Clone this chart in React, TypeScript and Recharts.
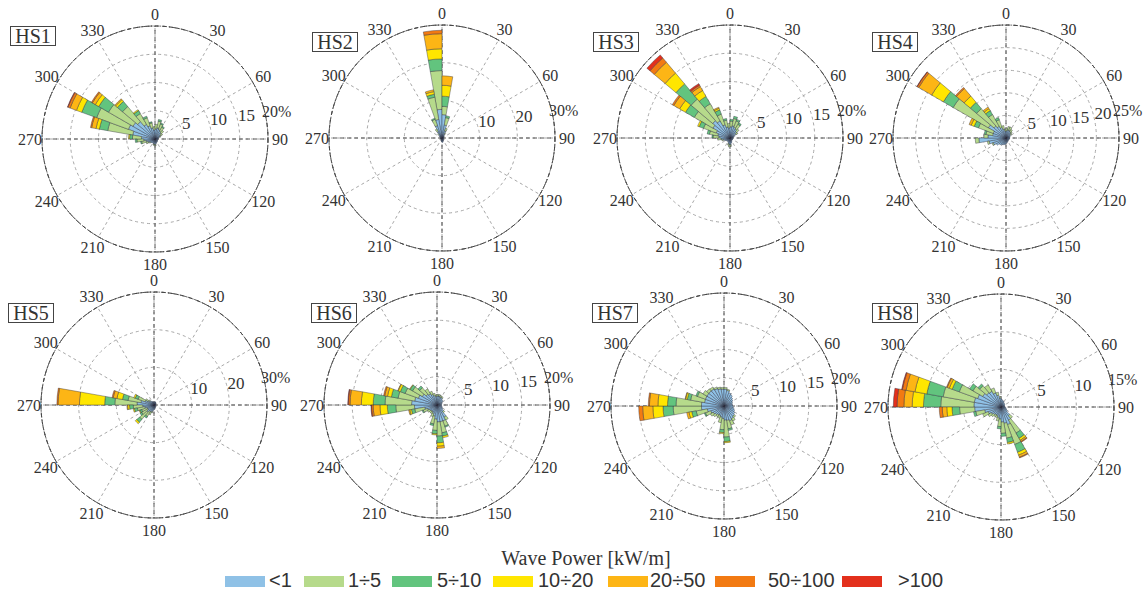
import React from "react";
import {
  RadialBarChart,
  RadialBar,
  PolarGrid,
  PolarAngleAxis,
  PolarRadiusAxis,
  Sector,
} from "recharts";

// wave power classes (kW/m)
const classes = ["<1", "1÷5", "5÷10", "10÷20", "20÷50", "50÷100", ">100"];
const classColors = [
  "#8fc1e6",
  "#b6da8b",
  "#62c47e",
  "#ffe600",
  "#fdb515",
  "#f27a12",
  "#e3301c",
];

// 10 degree direction bins
const directions = Array.from({ length: 36 }, (_, i) => i * 10);
const spokeBearings = [0, 30, 60, 90, 120, 150, 180, 210, 240, 270, 300, 330];

// rows: direction, then % for each class (missing = 0)
const hs1 = [
  [0, 1.6, 0.6], [10, 1.8, 0.8], [20, 2.0, 1.2, 0.3], [30, 1.8, 1.0, 0.2],
  [40, 1.6, 0.8, 0.2], [50, 1.4, 0.6], [60, 1.1, 0.4], [70, 0.9, 0.2],
  [80, 0.7], [90, 0.6], [100, 0.5], [110, 0.5], [120, 0.5], [130, 0.5],
  [140, 0.6], [150, 0.6], [160, 0.7], [170, 0.8], [180, 1.0, 0.2],
  [190, 1.0, 0.2], [200, 0.9, 0.2], [210, 0.8], [220, 0.8], [230, 0.9],
  [240, 1.0, 0.2], [250, 1.3, 0.4], [260, 1.6, 0.8, 0.2], [270, 2.0, 1.2, 0.3],
  [280, 2.4, 1.6, 0.5, 0.2],
  [290, 4.0, 4.5, 1.5, 0.6, 0.8, 0.2],
  [300, 5.0, 6.0, 2.8, 1.0, 1.2, 0.4, 0.1],
  [310, 4.5, 5.0, 2.0, 0.7, 0.6, 0.2],
  [320, 4.0, 3.5, 1.2, 0.4, 0.2],
  [330, 3.0, 2.2, 0.6, 0.2],
  [340, 2.5, 1.5, 0.3],
  [350, 2.0, 0.9, 0.2],
];

const hs2 = [
  [0, 7.6, 10.3, 3.1, 2.7, 4.0, 0.9],
  [10, 6.2, 2.2, 2.7, 2.9, 2.5],
  [20, 3.5, 2.0, 0.5], [30, 2.0, 0.8], [40, 1.2, 0.3], [50, 0.8], [60, 0.6],
  [70, 0.5], [80, 0.5], [90, 0.4], [100, 0.4], [110, 0.4], [120, 0.4],
  [130, 0.4], [140, 0.5], [150, 0.6], [160, 0.8], [170, 1.0], [180, 1.2],
  [190, 1.0], [200, 0.8], [210, 0.5], [220, 0.4], [230, 0.4], [240, 0.4],
  [250, 0.4], [260, 0.4], [270, 0.4], [280, 0.4], [290, 0.5], [300, 0.5],
  [310, 0.8], [320, 1.2, 0.3], [330, 2.0, 0.8], [340, 3.5, 1.8, 0.3],
  [350, 5.0, 6.0, 0.8, 0.7, 0.5],
];

const hs3 = [
  [0, 1.8, 0.8], [10, 2.0, 1.0, 0.3], [20, 2.2, 1.3, 0.4], [30, 2.0, 1.2, 0.3],
  [40, 1.8, 1.0, 0.3], [50, 1.5, 0.6], [60, 1.2, 0.4], [70, 0.9], [80, 0.7],
  [90, 0.5], [100, 0.5], [110, 0.5], [120, 0.5], [130, 0.5], [140, 0.5],
  [150, 0.5], [160, 0.7], [170, 0.9], [180, 1.2, 0.3], [190, 1.2, 0.4],
  [200, 1.0, 0.3], [210, 0.8], [220, 0.7], [230, 0.7], [240, 0.8], [250, 1.0],
  [260, 1.2, 0.3], [270, 1.6, 0.6], [280, 2.0, 1.0, 0.2], [290, 2.2, 1.5, 0.4],
  [300, 2.6, 2.4, 0.8, 0.3],
  [310, 3.5, 3.8, 1.8, 1.2, 1.2, 0.3],
  [320, 4.0, 5.0, 3.5, 2.5, 2.5, 1.0, 0.7],
  [330, 3.5, 3.5, 1.5, 1.2, 0.8, 0.3, 0.3],
  [340, 2.5, 2.0, 0.8, 0.3, 0.2],
  [350, 2.0, 1.2, 0.3],
];

const hs4 = [
  [0, 1.5, 0.5], [10, 1.6, 0.6], [20, 1.8, 0.8], [30, 1.8, 0.8], [40, 1.6, 0.6],
  [50, 1.4, 0.4], [60, 1.2, 0.3], [70, 1.0], [80, 0.9], [90, 0.8], [100, 0.8],
  [110, 0.8], [120, 0.7], [130, 0.7], [140, 0.7], [150, 0.8], [160, 0.9],
  [170, 1.0], [180, 1.2], [190, 1.4], [200, 1.5], [210, 1.6], [220, 1.8],
  [230, 2.0], [240, 2.5], [250, 3.0, 0.3], [260, 3.8, 0.4], [270, 6.0, 0.8],
  [280, 4.0, 0.9], [290, 3.0, 1.5, 0.4],
  [300, 3.0, 3.5, 1.0, 0.7, 0.5],
  [310, 4.5, 9.0, 2.5, 3.0, 3.3, 0.4, 0.1],
  [320, 3.5, 5.0, 1.8, 1.8, 2.2, 0.3],
  [330, 3.0, 3.0, 1.0, 0.5, 0.4],
  [340, 2.5, 1.8, 0.5],
  [350, 2.0, 0.8],
];

const hs5 = [
  [0, 0.8], [10, 0.8], [20, 0.9], [30, 0.9], [40, 0.8], [50, 0.7], [60, 0.6],
  [70, 0.5], [80, 0.5], [90, 0.5], [100, 0.5], [110, 0.5], [120, 0.5],
  [130, 0.5], [140, 0.5], [150, 0.6], [160, 0.8], [170, 1.0], [180, 1.2],
  [190, 1.4], [200, 1.8, 0.3], [210, 2.0, 0.8], [220, 2.0, 1.5, 0.5],
  [230, 2.5, 2.5, 1.0, 0.5], [240, 2.0, 1.8, 0.5], [250, 2.0, 1.5, 0.5, 0.2],
  [260, 2.5, 2.0, 0.8, 0.3],
  [270, 3.0, 2.5, 1.0, 0.5, 0.2],
  [280, 4.5, 5.9, 2.7, 6.7, 5.7, 0.3],
  [290, 3.5, 3.5, 1.5, 1.5, 1.0, 0.3],
  [300, 2.5, 2.0, 0.8, 0.4],
  [310, 1.8, 0.8], [320, 1.4, 0.4], [330, 1.2], [340, 1.0], [350, 0.9],
];

const hs6 = [
  [0, 1.5, 0.3], [10, 1.6, 0.3], [20, 1.6, 0.3], [30, 1.5, 0.3], [40, 1.5, 0.2],
  [50, 1.3], [60, 1.2], [70, 1.0], [80, 0.9], [90, 0.8], [100, 0.8], [110, 0.9],
  [120, 1.0], [130, 1.2], [140, 1.5, 0.3], [150, 2.5, 0.6], [160, 3.0, 1.0, 0.2],
  [170, 3.0, 2.0, 0.6, 0.3],
  [180, 3.0, 2.5, 1.2, 0.6, 0.4],
  [190, 2.5, 2.0, 0.6, 0.2],
  [200, 2.0, 1.4, 0.3], [210, 1.6, 0.6], [220, 1.4, 0.4], [230, 1.4, 0.4],
  [240, 1.5, 0.5], [250, 1.8, 0.8, 0.2], [260, 2.2, 1.8, 0.6, 0.3, 0.2],
  [270, 4.0, 3.3, 1.5, 1.3, 1.2, 0.3, 0.1],
  [280, 4.5, 4.7, 2.1, 2.1, 2.0, 0.3, 0.1],
  [290, 4.0, 3.0, 1.2, 0.7, 0.5, 0.2],
  [300, 3.5, 2.5, 0.9, 0.4, 0.1],
  [310, 3.0, 2.0, 0.5, 0.1],
  [320, 2.5, 1.5, 0.4],
  [330, 2.3, 1.0], [340, 2.0, 0.6], [350, 1.7, 0.4],
];

const hs7 = [
  [0, 3.0, 0.3], [10, 3.0, 0.3], [20, 2.8, 0.2], [30, 2.5], [40, 2.3], [50, 2.0],
  [60, 1.8], [70, 1.6], [80, 1.5], [90, 1.5], [100, 1.6], [110, 1.8], [120, 2.0],
  [130, 2.2], [140, 2.4, 0.3], [150, 2.6, 0.5], [160, 2.8, 0.8],
  [170, 2.6, 1.5, 0.3],
  [180, 2.5, 3.0, 0.8, 0.2],
  [190, 2.2, 2.0, 0.5, 0.2],
  [200, 2.0, 1.0], [210, 1.8, 0.5], [220, 1.8, 0.4], [230, 2.0, 0.5],
  [240, 2.2, 0.6], [250, 2.5, 1.0, 0.2],
  [260, 3.0, 2.0, 0.8, 0.5, 0.4],
  [270, 4.0, 5.0, 1.8, 1.8, 1.8, 0.7],
  [280, 4.0, 4.5, 1.5, 1.7, 1.5, 0.2],
  [290, 3.5, 2.5, 0.6, 0.3, 0.1],
  [300, 3.5, 1.5, 0.3],
  [310, 3.5, 0.8], [320, 3.5, 0.5], [330, 3.5, 0.4], [340, 3.3, 0.3], [350, 3.1, 0.3],
];

const hs8 = [
  [0, 1.2, 0.2], [10, 1.0], [20, 0.9], [30, 0.8], [40, 0.7], [50, 0.6], [60, 0.6],
  [70, 0.5], [80, 0.5], [90, 0.5], [100, 0.6], [110, 0.7], [120, 0.8], [130, 1.0],
  [140, 1.5, 0.5],
  [150, 2.0, 2.0, 0.8, 0.3, 0.2, 0.1],
  [160, 2.5, 2.8, 1.1, 0.4, 0.3, 0.1],
  [170, 2.2, 2.0, 0.6, 0.2],
  [180, 2.0, 1.5, 0.4],
  [190, 1.6, 1.0, 0.3],
  [200, 1.4, 0.5], [210, 1.2, 0.3], [220, 1.2, 0.3], [230, 1.3, 0.4],
  [240, 1.5, 0.5], [250, 1.8, 0.8], [260, 2.2, 1.2, 0.3],
  [270, 3.5, 2.0, 1.0, 0.7, 0.6, 0.4],
  [280, 3.6, 4.4, 2.3, 1.5, 1.1, 0.9, 0.5],
  [290, 3.6, 4.2, 2.2, 1.6, 1.2, 0.5, 0.1],
  [300, 3.3, 2.6, 1.0, 0.4, 0.3, 0.1],
  [310, 2.8, 1.5, 0.5],
  [320, 2.5, 1.2, 0.3],
  [330, 2.4, 1.0], [340, 2.0, 0.7], [350, 1.6, 0.4],
];

const stationNames = ["HS1", "HS2", "HS3", "HS4", "HS5", "HS6", "HS7", "HS8"];
const stationRows = [hs1, hs2, hs3, hs4, hs5, hs6, hs7, hs8];
const stationMax = [20, 30, 20, 25, 30, 20, 20, 15];
const stationTicks = [
  [0, 5, 10, 15, 20],
  [0, 10, 20, 30],
  [0, 5, 10, 15, 20],
  [0, 5, 10, 15, 20, 25],
  [0, 10, 20, 30],
  [0, 5, 10, 15, 20],
  [0, 5, 10, 15, 20],
  [0, 5, 10, 15],
];

// page layout (rose centre, label box top-left)
const panels = [
  { cx: 155, cy: 139, bx: 10, by: 26 },
  { cx: 442, cy: 138, bx: 312, by: 32 },
  { cx: 730, cy: 138, bx: 593, by: 32 },
  { cx: 1006, cy: 138, bx: 872, by: 32 },
  { cx: 154, cy: 405, bx: 8, by: 303 },
  { cx: 437, cy: 405, bx: 311, by: 303 },
  { cx: 724, cy: 406, bx: 592, by: 303 },
  { cx: 1001, cy: 407, bx: 872, by: 303 },
];

const legendSwatchX = [225, 304, 392, 493, 608, 715, 842];
const legendTextX = [269, 348, 437, 538, 650, 768, 898];

const W = 290;
const H = 270;
const R = 113;
const serif = "'Liberation Serif', 'Times New Roman', serif";

const buildTable = (rows: number[][]) =>
  directions.map((d) => {
    const row = rows.find((r) => r[0] === d) || [d];
    const o: Record<string, number> = { dir: d };
    classes.forEach((_, i) => {
      o["c" + i] = row[i + 1] ?? 0;
    });
    return o;
  });

const BarShape = (p: any) =>
  p.outerRadius - p.innerRadius > 0.05 ? <Sector {...p} /> : <g />;

function Rose({ idx }: { idx: number }) {
  const data = buildTable(stationRows[idx]);
  const max = stationMax[idx];
  const cx = W / 2;
  const cy = H / 2;

  const AngleTick = (p: any) => {
    const b = Number(p.payload.value);
    if (b % 30 !== 0) return <g />;
    const a = ((90 - b) * Math.PI) / 180;
    const x = cx + (R + 12) * Math.cos(a);
    const y = cy - (R + 12) * Math.sin(a);
    return (
      <text
        x={x}
        y={y}
        textAnchor="middle"
        dominantBaseline="central"
        fontSize={16}
        fontFamily={serif}
        fill="#333"
      >
        {b}
      </text>
    );
  };

  const RadiusTick = (p: any) => {
    const v = Number(p.payload.value);
    if (!v) return <g />;
    const last = v === max;
    return (
      <text
        x={last ? p.x - 5 : p.x - 1}
        y={p.y - 6}
        textAnchor="start"
        fontSize={last ? 16 : 17}
        fontFamily={serif}
        fill="#333"
      >
        {last ? `${v}%` : v}
      </text>
    );
  };

  return (
    <RadialBarChart
      width={W}
      height={H}
      cx={cx}
      cy={cy}
      innerRadius={0}
      outerRadius={R}
      startAngle={90}
      endAngle={-270}
      layout="centric"
      data={data}
      barCategoryGap={0}
      barGap={0}
      margin={{ top: 0, right: 0, bottom: 0, left: 0 }}
    >
      <PolarGrid
        gridType="circle"
        polarAngles={spokeBearings.map((b) => 90 - b)}
        stroke="#a8a8a8"
        strokeDasharray="3 3"
      />
      <PolarGrid
        gridType="circle"
        polarAngles={[90, 0, -90, -180]}
        polarRadius={[R]}
        stroke="#555"
        strokeDasharray="4 3"
      />
      <PolarAngleAxis
        type="category"
        dataKey="dir"
        tick={AngleTick}
        tickLine={false}
        axisLineType="circle"
        axisLine={{ stroke: "#444", strokeDasharray: "4 2 1 2" }}
      />
      <PolarRadiusAxis
        type="number"
        domain={[0, max]}
        ticks={stationTicks[idx]}
        tickCount={stationTicks[idx].length}
        angle={8}
        axisLine={false}
        tickLine={false}
        tick={RadiusTick}
      />
      {classes.map((c, i) => (
        <RadialBar
          key={c}
          dataKey={"c" + i}
          stackId="s"
          fill={classColors[i]}
          stroke="#2b2b3a"
          strokeWidth={0.4}
          shape={BarShape}
          isAnimationActive={false}
        />
      ))}
    </RadialBarChart>
  );
}

export default function App() {
  return (
    <div
      style={{
        position: "absolute",
        left: 0,
        top: 0,
        width: 1143,
        height: 591,
        overflow: "hidden",
        background: "#fff",
      }}
    >
      {panels.map((p, i) => (
        <div
          key={stationNames[i]}
          style={{
            position: "absolute",
            left: p.cx - W / 2,
            top: p.cy - H / 2,
            width: W,
            height: H,
          }}
        >
          <Rose idx={i} />
        </div>
      ))}
      {panels.map((p, i) => (
        <div
          key={"box" + i}
          style={{
            position: "absolute",
            left: p.bx,
            top: p.by,
            width: 44,
            height: 18,
            border: "1px solid #444",
            background: "#fff",
            fontFamily: serif,
            fontSize: 20,
            lineHeight: "19px",
            textAlign: "center",
            color: "#333",
          }}
        >
          {stationNames[i]}
        </div>
      ))}
      <svg
        width={1143}
        height={60}
        style={{ position: "absolute", left: 0, top: 531 }}
      >
        <text
          x={586}
          y={34}
          textAnchor="middle"
          fontFamily={serif}
          fontSize={20}
          fill="#333"
        >
          Wave Power [kW/m]
        </text>
        {classes.map((c, i) => (
          <g key={c}>
            <rect
              x={legendSwatchX[i]}
              y={45}
              width={40}
              height={11}
              fill={classColors[i]}
            />
            <text
              x={legendTextX[i]}
              y={56}
              fontFamily="'Liberation Sans', Arial, sans-serif"
              fontSize={20}
              fill="#333"
            >
              {c}
            </text>
          </g>
        ))}
      </svg>
    </div>
  );
}
